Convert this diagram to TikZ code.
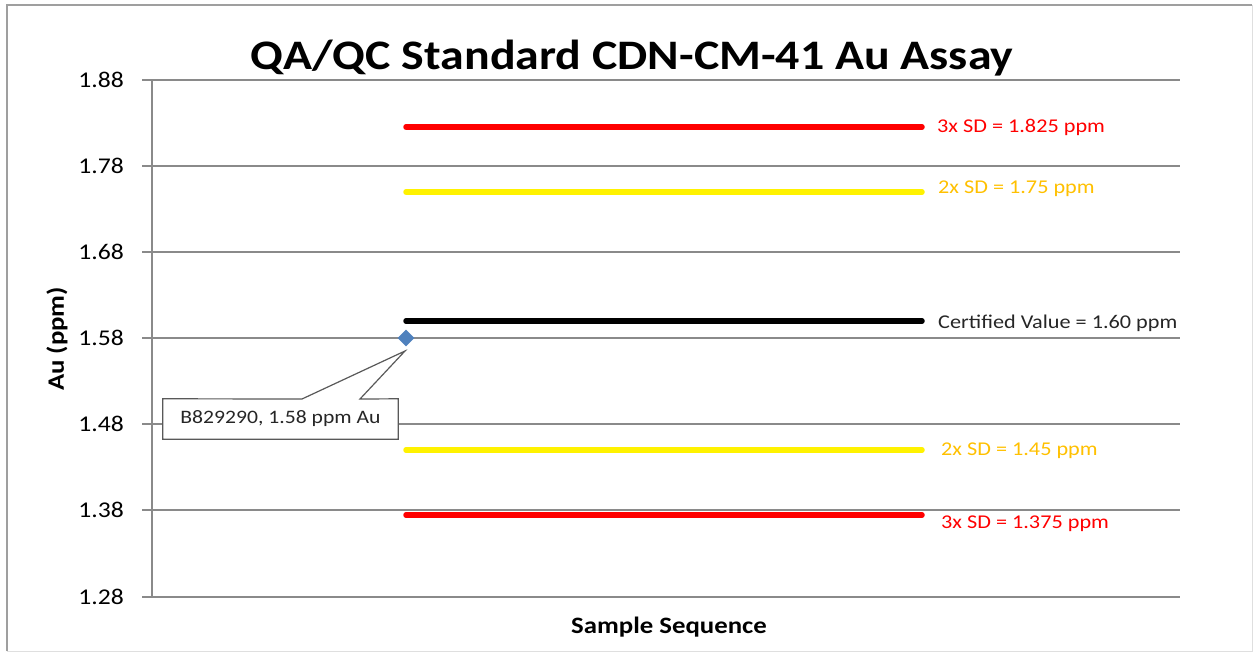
\documentclass[tikz,border=0pt]{standalone}
\usepackage{fontspec}
\setmainfont[FakeStretch=1.14]{Carlito}
\usepackage{xcolor}
\usetikzlibrary{shapes.geometric}
\definecolor{gridgray}{HTML}{8A8A8A}
\definecolor{sdorange}{HTML}{FFC000}
\definecolor{ptblue}{HTML}{4F81BD}
\definecolor{boxgray}{HTML}{595959}

\begin{document}
\begin{tikzpicture}[x=1pt,y=-1pt,
  grid/.style={gridgray,line width=1.8pt},
  limit/.style={line width=5.5pt,line cap=round},
  lbl/.style={anchor=west,inner sep=0pt,font=\fontsize{19.5}{23}\selectfont}]
\useasboundingbox (0,0) rectangle (1254,652);
% frame
\draw[gray!25,line width=1pt] (1252,5) -- (1252,651) -- (7,651);
\draw[gray!75,line width=1.5pt] (7,651) -- (7,5) -- (1252,5);
% title
\node[font=\fontsize{42}{48}\selectfont\bfseries] (title) at (632,58) {QA/QC Standard CDN-CM-41 Au Assay};
% grid and tick labels
\foreach \v/\y in {1.88/80,1.78/166,1.68/252,1.58/338,1.48/424,1.38/510}{
  \draw[grid] (142,\y) -- (1180,\y);
  \node[anchor=east,inner sep=0pt,font=\fontsize{22.5}{26}\selectfont] at (124,\y) {\v};
}
\draw[grid] (142,597) -- (1180,597);
\node[anchor=east,inner sep=0pt,font=\fontsize{22.5}{26}\selectfont] at (124,597) {1.28};
\draw[grid] (152,80) -- (152,597);
% axis titles
\node[rotate=90,font=\fontsize{23.5}{27}\selectfont\bfseries] (ylab) at (57,339) {Au (ppm)};
\node[font=\fontsize{23.5}{27}\selectfont\bfseries] (xlab) at (669,627) {Sample Sequence};
% limit lines
\draw[limit,red] (406,127) -- (922,127);
\draw[limit,yellow] (406,192) -- (922,192);
\draw[limit,black] (406,321) -- (922,321);
\draw[limit,yellow] (406,450) -- (922,450);
\draw[limit,red] (406,515) -- (922,515);
\node[lbl,red] (sdA) at (937,127) {3x SD = 1.825 ppm};
\node[lbl,sdorange] (sdB) at (938,189) {2x SD = 1.75 ppm};
\node[lbl,black!85] (cert) at (938,323) {Certified Value = 1.60 ppm};
\node[lbl,sdorange] (sdC) at (941,451) {2x SD = 1.45 ppm};
\node[lbl,red] (sdD) at (941,524) {3x SD = 1.375 ppm};
% sample point and callout
\node[diamond,fill=ptblue,inner sep=0pt,minimum size=17pt] (pt) at (406,338) {};
\node[inner sep=0pt,minimum width=235pt,minimum height=40pt] (callout) at (280.5,419) {};
\coordinate (tip) at (405,351);
\coordinate (baseA) at (302,399);
\coordinate (baseB) at (360,399);
\filldraw[fill=white,draw=boxgray,line width=1.2pt] (callout.north west) -- (baseA) -- (tip)
  -- (baseB) -- (callout.north east) -- (callout.south east) -- (callout.south west) -- cycle;
\node[font=\fontsize{19}{23}\selectfont,text=black!85] at (callout) {B829290, 1.58 ppm Au};
\end{tikzpicture}
\end{document}
